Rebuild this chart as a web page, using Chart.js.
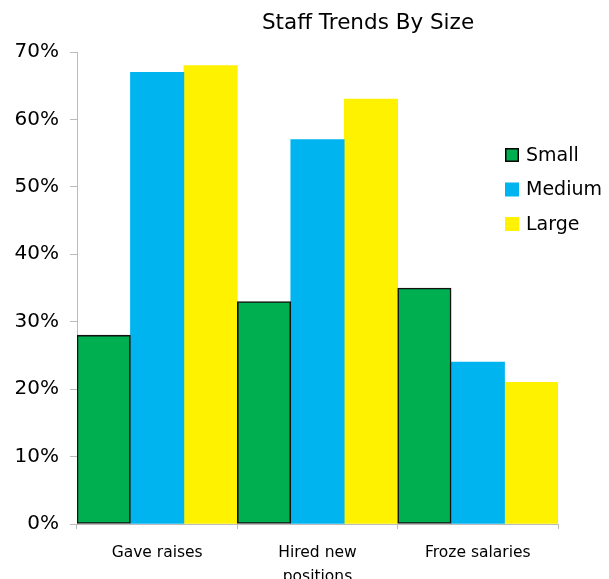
<!DOCTYPE html>
<html>
<head>
<meta charset="utf-8">
<script src="https://cdn.jsdelivr.net/npm/chart.js@4.4.0/dist/chart.umd.min.js"></script>
<style>
html,body{margin:0;padding:0;background:#fff;}
#wrap{width:609px;height:579px;}
</style>
</head>
<body>
<div id="wrap"><canvas id="c" width="609" height="579"></canvas></div>
<script>
const categories = ["Gave raises", ["Hired new", "positions"], "Froze salaries"];
const seriesNames = ["Small", "Medium", "Large"];
const smallValues = [28, 33, 35];
const mediumValues = [67, 57, 24];
const largeValues = [68, 63, 21];
const yTicks = [0, 10, 20, 30, 40, 50, 60, 70];
const chartTitle = "Staff Trends By Size";

const FONT = "'DejaVu Sans', sans-serif";
const colors = ["#00B050", "#00B4F0", "#FFF200"];

const titleCenterPlugin = {
  id: 'titleCenter',
  afterLayout(chart) {
    const tb = chart.titleBlock;
    if (tb) {
      const center = 368;
      const half = 150;
      tb.left = center - half;
      tb.right = center + half;
      tb.width = half * 2;
    }
  }
};

const legendPlugin = {
  id: 'sideLegend',
  afterDraw(chart) {
    const ctx = chart.ctx;
    ctx.save();
    ctx.font = "19px " + FONT;
    ctx.textBaseline = 'middle';
    ctx.textAlign = 'left';
    chart.data.datasets.forEach((ds, i) => {
      const y = 155 + i * 34.5;
      const x = 505;
      ctx.fillStyle = ds.backgroundColor;
      ctx.fillRect(x, y - 7, 14, 14);
      if (ds.borderWidth > 0) {
        ctx.strokeStyle = '#000';
        ctx.lineWidth = 1.5;
        ctx.strokeRect(x + 0.75, y - 6.25, 12.5, 12.5);
      }
      ctx.fillStyle = '#000';
      ctx.fillText(ds.label, 526, y + 1);
    });
    ctx.restore();
  }
};

new Chart(document.getElementById('c'), {
  type: 'bar',
  data: {
    labels: categories,
    datasets: [
      { label: seriesNames[0], data: smallValues, backgroundColor: colors[0], borderColor: '#111', borderWidth: 1.6, borderSkipped: false },
      { label: seriesNames[1], data: mediumValues, backgroundColor: colors[1], borderWidth: 0 },
      { label: seriesNames[2], data: largeValues, backgroundColor: colors[2], borderWidth: 0 }
    ]
  },
  options: {
    responsive: false,
    animation: false,
    devicePixelRatio: 1,
    layout: { padding: { left: 0, right: 51, top: 0, bottom: 0 } },
    datasets: { bar: { categoryPercentage: 1.0, barPercentage: 1.0 } },
    plugins: {
      legend: { display: false },
      tooltip: { enabled: false },
      title: {
        display: true,
        text: chartTitle,
        color: '#000',
        font: { family: FONT, size: 21.5, weight: 'normal', lineHeight: 1.2 },
        padding: { top: 10.6, bottom: 15.6 }
      }
    },
    scales: {
      x: {
        grid: { display: true, drawOnChartArea: false, drawTicks: true, tickLength: 5, color: '#BBBBBB', offset: true },
        border: { display: true, color: '#BBBBBB', width: 1 },
        ticks: { color: '#000', font: { family: FONT, size: 15.5, lineHeight: 1.55 }, padding: 12, maxRotation: 0, autoSkip: false },
        afterFit(scale) { scale.height = 55; }
      },
      y: {
        min: 0, max: 70,
        afterBuildTicks(scale) { scale.ticks = yTicks.map(v => ({ value: v })); },
        grid: { display: true, drawOnChartArea: false, drawTicks: true, tickLength: 7, color: '#BBBBBB' },
        border: { display: true, color: '#BBBBBB', width: 1 },
        ticks: { color: '#000', font: { family: FONT, size: 20 }, padding: 11, callback: v => v + '%' },
        afterFit(scale) { scale.width = 77; }
      }
    }
  },
  plugins: [titleCenterPlugin, legendPlugin]
});
</script>
</body>
</html>
